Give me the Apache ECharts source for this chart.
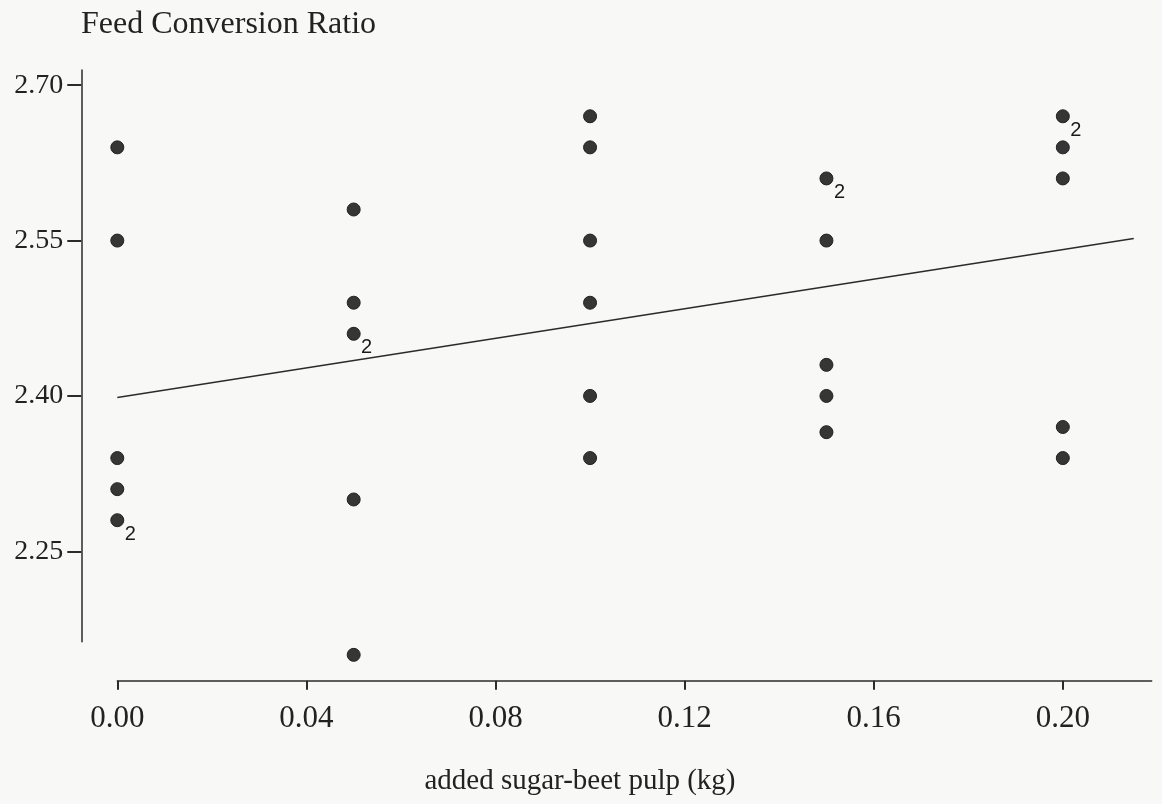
<!DOCTYPE html>
<html>
<head>
<meta charset="utf-8">
<title>Feed Conversion Ratio vs added sugar-beet pulp</title>
<script src="https://cdn.jsdelivr.net/npm/echarts@6.0.0/dist/echarts.min.js"></script>
<style>
  html, body { margin: 0; padding: 0; background: #f8f8f7; }
  #chart { width: 1162px; height: 804px; }
</style>
</head>
<body>
<div id="chart"></div>
<script>
// Added sugar-beet pulp levels (kg) and the feed conversion ratio of each pen
const doses = [0.00, 0.05, 0.10, 0.15, 0.20];
const fcrAt000 = [2.64, 2.55, 2.34, 2.31, 2.28, 2.28];
const fcrAt005 = [2.58, 2.49, 2.46, 2.46, 2.30, 2.15];
const fcrAt010 = [2.67, 2.64, 2.55, 2.49, 2.40, 2.34];
const fcrAt015 = [2.61, 2.61, 2.55, 2.43, 2.40, 2.365];
const fcrAt020 = [2.67, 2.67, 2.64, 2.61, 2.37, 2.34];

// Fitted straight line (start and end)
const fitLineX = [0.00, 0.215];
const fitLineY = [2.3985, 2.552];

// Tick labels
const xTicks = [0.00, 0.04, 0.08, 0.12, 0.16, 0.20];
const yTicks = [2.25, 2.40, 2.55, 2.70];

const xTitle = 'added sugar-beet pulp (kg)';
const yTitle = 'Feed Conversion Ratio';

// Merge coinciding observations into one dot carrying its count
const groups = [fcrAt000, fcrAt005, fcrAt010, fcrAt015, fcrAt020];
const points = [];
groups.forEach((vals, i) => {
  const counts = new Map();
  vals.forEach(v => counts.set(v, (counts.get(v) || 0) + 1));
  counts.forEach((n, v) => points.push([doses[i], v, n]));
});
const fitData = fitLineX.map((x, i) => [x, fitLineY[i]]);

const ink = '#2b2b2b';
const serif = '"Liberation Serif", "DejaVu Serif", serif';

const chart = echarts.init(document.getElementById('chart'), null, { renderer: 'canvas' });
chart.setOption({
  backgroundColor: '#f8f8f7',
  animation: false,
  grid: { left: 117.3, right: 10.3, top: 70, bottom: 162.3, containLabel: false, outerBoundsMode: 'none' },
  xAxis: {
    type: 'value',
    min: 0,
    max: 0.2188,
    offset: 39,
    splitLine: { show: false },
    axisLine: { show: true, onZero: false, lineStyle: { color: ink, width: 1.5 } },
    axisTick: { show: true, customValues: xTicks, length: 9, lineStyle: { color: ink, width: 2 } },
    axisLabel: {
      customValues: xTicks,
      margin: 23,
      color: '#222',
      fontFamily: serif,
      fontSize: 31,
      formatter: v => v.toFixed(2)
    }
  },
  yAxis: {
    type: 'value',
    min: 2.1627,
    max: 2.7147,
    offset: 36,
    splitLine: { show: false },
    axisLine: { show: true, onZero: false, lineStyle: { color: ink, width: 1.5 } },
    axisTick: { show: true, customValues: yTicks, length: 14, lineStyle: { color: ink, width: 2 } },
    axisLabel: {
      customValues: yTicks,
      margin: 18,
      color: '#222',
      fontFamily: serif,
      fontSize: 28,
      formatter: v => v.toFixed(2)
    }
  },
  graphic: [
    {
      type: 'text', x: 81, y: 25,
      style: { text: yTitle, fill: '#222', font: '32px ' + serif, align: 'left', verticalAlign: 'middle' }
    },
    {
      type: 'text', x: 580, y: 781,
      style: { text: xTitle, fill: '#222', font: '29px ' + serif, align: 'center', verticalAlign: 'middle' }
    }
  ],
  series: [
    {
      type: 'line',
      data: fitData,
      symbol: 'none',
      silent: true,
      lineStyle: { color: ink, width: 1.4 }
    },
    {
      type: 'scatter',
      data: points,
      clip: false,
      symbol: 'circle',
      symbolSize: 13,
      itemStyle: { color: '#363636', borderColor: '#222', borderWidth: 1, opacity: 1 },
      label: {
        show: true,
        position: 'inside',
        offset: [13, 14],
        color: '#1a1a1a',
        fontFamily: '"Liberation Sans", Arial, sans-serif',
        fontSize: 20,
        formatter: p => (p.value[2] > 1 ? String(p.value[2]) : '')
      }
    }
  ]
});
</script>
</body>
</html>
